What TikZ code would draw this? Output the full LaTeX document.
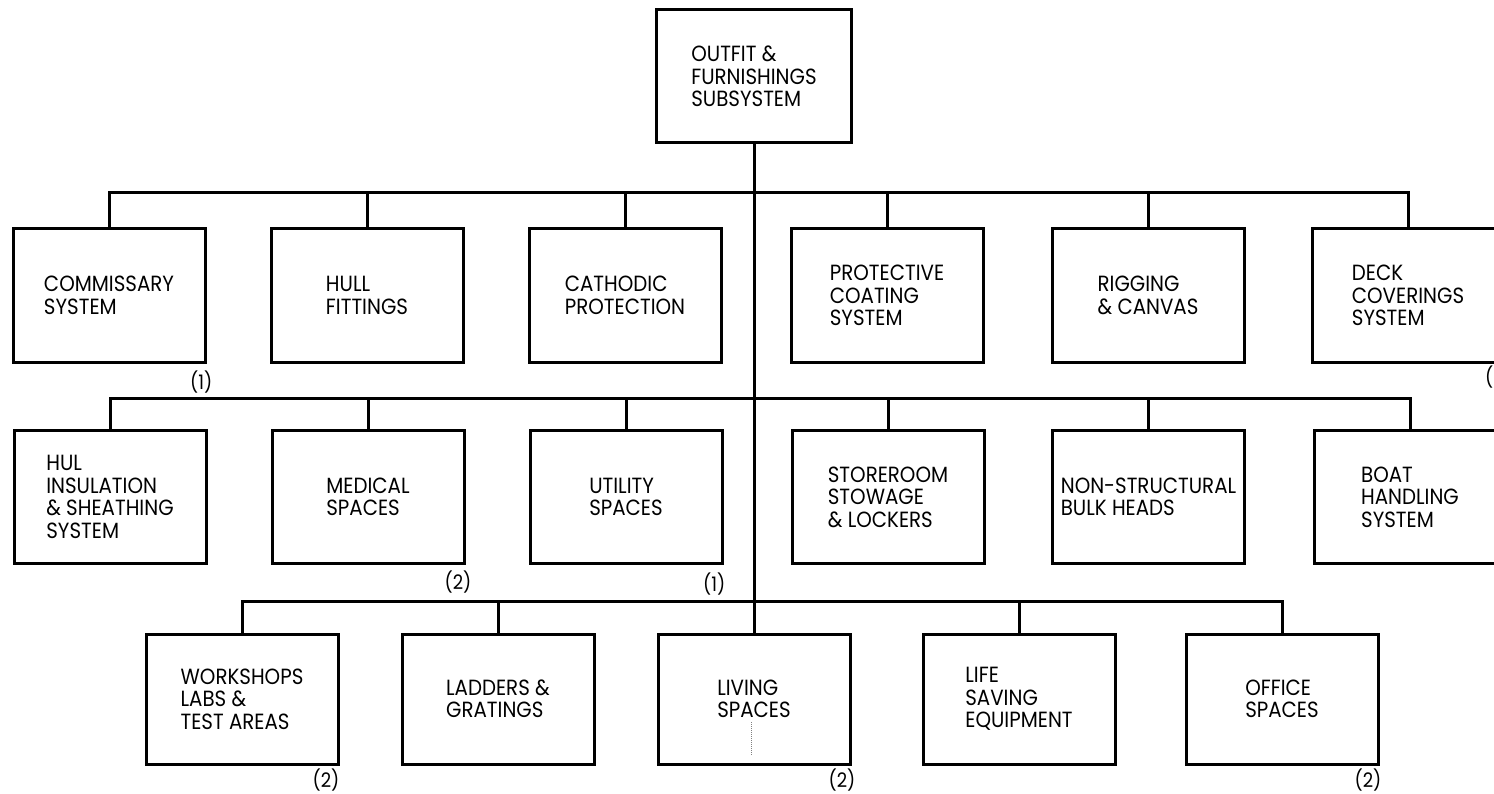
\documentclass[tikz,border=0pt]{standalone}
\usepackage{fontspec}
\setmainfont{Poppins}[FakeStretch=0.9]
\begin{document}
\begin{tikzpicture}[x=1pt,y=-1pt,
  box/.style={draw, line width=3pt, minimum width=192pt, minimum height=133pt,
    align=left, font=\fontsize{22}{22.5}\selectfont, inner sep=0pt},
  wire/.style={line width=3pt},
  note/.style={font=\fontsize{20}{22}\selectfont, anchor=east, inner sep=0pt}]
\useasboundingbox[fill=white] (0,0) rectangle (1494,794);

% top
\node[box, minimum width=195pt] (top) at (754,76.5) {OUTFIT \&\\FURNISHINGS\\SUBSYSTEM};

% row 1
\node[box] (comm) at (109,295.5) {COMMISSARY\\SYSTEM};
\node[box] (hull) at (367,295.5) {HULL\\FITTINGS};
\node[box] (cath) at (625,295.5) {CATHODIC\\PROTECTION};
\node[box] (prot) at (887,295.5) {PROTECTIVE\\COATING\\SYSTEM};
\node[box] (rigg) at (1148,295.5) {RIGGING\\\& CANVAS};
\node[box] (deck) at (1408,295.5) {DECK\\COVERINGS\\SYSTEM};

% row 2
\node[box] (hul) at (110,497) {HUL\\INSULATION\\\& SHEATHING\\SYSTEM};
\node[box] (med) at (368,497) {MEDICAL\\SPACES};
\node[box] (util) at (626,497) {UTILITY\\SPACES};
\node[box] (store) at (888,497) {STOREROOM\\STOWAGE\\\& LOCKERS};
\node[box] (nons) at (1148.5,497) {NON-STRUCTURAL\\BULK HEADS};
\node[box] (boat) at (1410,497) {BOAT\\HANDLING\\SYSTEM};

% row 3
\tikzset{row3/.style={minimum height=130pt}}
\node[box, row3] (work) at (242,699) {WORKSHOPS\\LABS \&\\TEST AREAS};
\node[box, row3] (ladd) at (498,699) {LADDERS \&\\GRATINGS};
\node[box, row3] (live) at (754,699) {LIVING\\SPACES};
\node[box, row3] (life) at (1019,699) {LIFE\\SAVING\\EQUIPMENT};
\node[box, row3] (offi) at (1282,699) {OFFICE\\SPACES};

% buses
\coordinate (b1) at (754,193);
\coordinate (b2) at (754,398);
\coordinate (b3) at (754,601);

\draw[wire] (top.south) -- (live.north);
\draw[wire] (comm.north) |- (b1) -| (deck.north);
\foreach \n in {hull,cath,prot,rigg} \draw[wire] (\n.north) -- (\n.north |- b1);
\draw[wire] (hul.north) |- (b2) -| (boat.north);
\foreach \n in {med,util,store,nons} \draw[wire] (\n.north) -- (\n.north |- b2);
\draw[wire] (work.north) |- (b3) -| (offi.north);
\foreach \n in {ladd,life} \draw[wire] (\n.north) -- (\n.north |- b3);

% notes
\node[note] (n1) at ([shift={(6,19)}]comm.south east) {(1)};
\node[note] (n2) at ([shift={(6,17)}]med.south east) {(2)};
\node[note] (n3) at ([shift={(2,19)}]util.south east) {(1)};
\node[note] (n4) at ([shift={(0,15)}]work.south east) {(2)};
\node[note] (n5) at ([shift={(4,15)}]live.south east) {(2)};
\node[note] (n6) at ([shift={(2,15)}]offi.south east) {(2)};
\node[note, anchor=west] (n7) at (1485,377) {(};

% faint dotted mark in living box
\draw[densely dotted, line width=1pt, gray] (751,722) -- (751,755);
\end{tikzpicture}
\end{document}
